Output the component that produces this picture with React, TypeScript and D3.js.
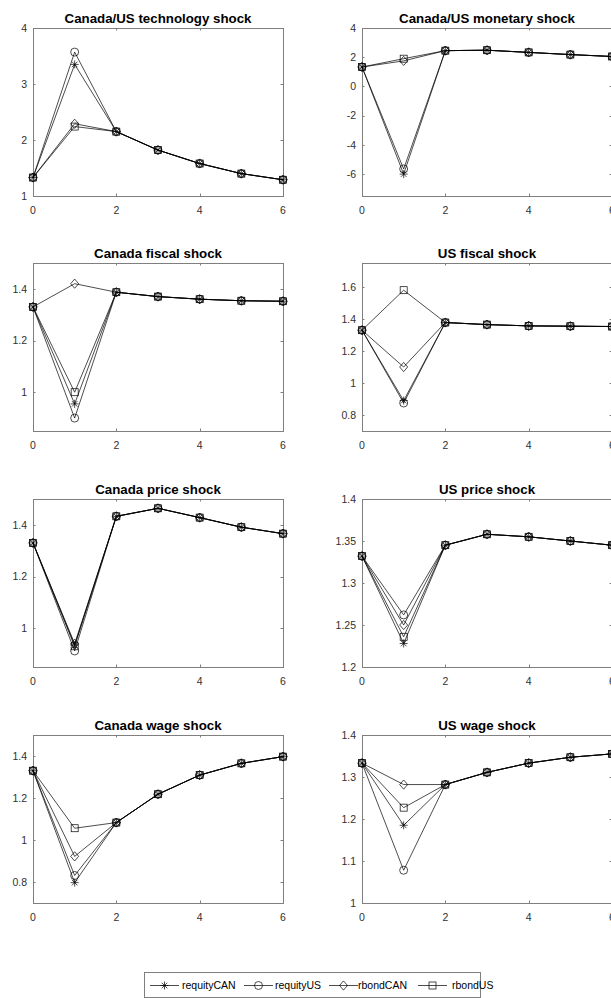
import React from "react";
import * as d3 from "d3";

const steps = [0, 1, 2, 3, 4, 5, 6];
const seriesNames = ["requityCAN", "requityUS", "rbondCAN", "rbondUS"];
const markerTypes = ["star", "circle", "diamond", "square"];
const xTicks = [0, 2, 4, 6];

const titles = [
  "Canada/US technology shock",
  "Canada/US monetary shock",
  "Canada fiscal shock",
  "US fiscal shock",
  "Canada price shock",
  "US price shock",
  "Canada wage shock",
  "US wage shock",
];

// series order: requityCAN, requityUS, rbondCAN, rbondUS
const techShock = [
  [1.33, 3.35, 2.15, 1.82, 1.58, 1.4, 1.29],
  [1.33, 3.57, 2.15, 1.82, 1.58, 1.4, 1.29],
  [1.33, 2.29, 2.15, 1.82, 1.58, 1.4, 1.29],
  [1.33, 2.24, 2.15, 1.82, 1.58, 1.4, 1.29],
];
const monetaryShock = [
  [1.33, -6.0, 2.45, 2.48, 2.33, 2.18, 2.05],
  [1.33, -5.65, 2.45, 2.48, 2.33, 2.18, 2.05],
  [1.33, 1.75, 2.45, 2.48, 2.33, 2.18, 2.05],
  [1.33, 1.9, 2.45, 2.48, 2.33, 2.18, 2.05],
];
const canFiscalShock = [
  [1.33, 0.955, 1.387, 1.37, 1.36, 1.354, 1.352],
  [1.33, 0.9, 1.387, 1.37, 1.36, 1.354, 1.352],
  [1.33, 1.42, 1.387, 1.37, 1.36, 1.354, 1.352],
  [1.33, 1.0, 1.387, 1.37, 1.36, 1.354, 1.352],
];
const usFiscalShock = [
  [1.33, 0.89, 1.378, 1.365, 1.357, 1.355, 1.353],
  [1.33, 0.875, 1.378, 1.365, 1.357, 1.355, 1.353],
  [1.33, 1.1, 1.378, 1.365, 1.357, 1.355, 1.353],
  [1.33, 1.58, 1.378, 1.365, 1.357, 1.355, 1.353],
];
const canPriceShock = [
  [1.33, 0.935, 1.433, 1.464, 1.428, 1.391, 1.366],
  [1.33, 0.912, 1.433, 1.464, 1.428, 1.391, 1.366],
  [1.33, 0.94, 1.433, 1.464, 1.428, 1.391, 1.366],
  [1.33, 0.93, 1.433, 1.464, 1.428, 1.391, 1.366],
];
const usPriceShock = [
  [1.332, 1.228, 1.345, 1.358, 1.355, 1.35, 1.345],
  [1.332, 1.262, 1.345, 1.358, 1.355, 1.35, 1.345],
  [1.332, 1.25, 1.345, 1.358, 1.355, 1.35, 1.345],
  [1.332, 1.236, 1.345, 1.358, 1.355, 1.35, 1.345],
];
const canWageShock = [
  [1.33, 0.797, 1.083, 1.218, 1.309, 1.365, 1.397],
  [1.33, 0.831, 1.083, 1.218, 1.309, 1.365, 1.397],
  [1.33, 0.922, 1.083, 1.218, 1.309, 1.365, 1.397],
  [1.33, 1.056, 1.083, 1.218, 1.309, 1.365, 1.397],
];
const usWageShock = [
  [1.333, 1.185, 1.282, 1.311, 1.333, 1.347, 1.355],
  [1.333, 1.078, 1.282, 1.311, 1.333, 1.347, 1.355],
  [1.333, 1.282, 1.282, 1.311, 1.333, 1.347, 1.355],
  [1.333, 1.227, 1.282, 1.311, 1.333, 1.347, 1.355],
];

const panelData = [
  techShock,
  monetaryShock,
  canFiscalShock,
  usFiscalShock,
  canPriceShock,
  usPriceShock,
  canWageShock,
  usWageShock,
];

const yDomains = [
  [1, 4],
  [-7.5, 4],
  [0.85, 1.5],
  [0.7, 1.75],
  [0.85, 1.5],
  [1.2, 1.4],
  [0.7, 1.5],
  [1, 1.4],
];
const yTicks = [
  [1, 2, 3, 4],
  [-6, -4, -2, 0, 2, 4],
  [1, 1.2, 1.4],
  [0.8, 1, 1.2, 1.4, 1.6],
  [1, 1.2, 1.4],
  [1.2, 1.25, 1.3, 1.35, 1.4],
  [0.8, 1, 1.2, 1.4],
  [1, 1.1, 1.2, 1.3, 1.4],
];

const colLeft = [33, 362];
const rowTop = [28, 263, 499, 735];
const PW = 250;
const PH = 168;
const AXIS = "#7f7f7f";
const TEXT = "#303030";
const FONT = "'Liberation Sans', Arial, Helvetica, sans-serif";

function Marker({ type, x, y }: { type: string; x: number; y: number }) {
  const s = { fill: "none", stroke: "#000", strokeWidth: 0.7 };
  if (type === "circle") return <circle cx={x} cy={y} r={4} {...s} />;
  if (type === "square")
    return <rect x={x - 3.5} y={y - 3.5} width={7} height={7} {...s} />;
  if (type === "diamond")
    return (
      <path
        d={`M${x},${y - 4.6}L${x + 4},${y}L${x},${y + 4.6}L${x - 4},${y}Z`}
        {...s}
      />
    );
  const r = 4;
  const d = r * 0.7;
  return (
    <path
      d={`M${x - r},${y}H${x + r}M${x},${y - r}V${y + r}M${x - d},${y - d}L${x + d},${y + d}M${x - d},${y + d}L${x + d},${y - d}`}
      {...s}
    />
  );
}

function Panel({ idx }: { idx: number }) {
  const left = colLeft[idx % 2];
  const top = rowTop[Math.floor(idx / 2)];
  const x = d3.scaleLinear().domain([0, 6]).range([left, left + PW]);
  const y = d3
    .scaleLinear()
    .domain(yDomains[idx])
    .range([top + PH, top]);
  const line = d3
    .line<number>()
    .x((_, i) => x(steps[i]))
    .y((v) => y(v));
  const series = panelData[idx];
  const tl = 2.5;
  return (
    <g>
      <text
        x={left + PW / 2}
        y={top - 5}
        textAnchor="middle"
        fontFamily={FONT}
        fontWeight="bold"
        fontSize={13.3}
        fill="#000"
      >
        {titles[idx]}
      </text>
      <rect
        x={left + 0.5}
        y={top + 0.5}
        width={PW}
        height={PH}
        fill="none"
        stroke={AXIS}
        strokeWidth={1}
      />
      {xTicks.map((t) => (
        <g key={"x" + t}>
          <line
            x1={Math.round(x(t)) + 0.5}
            x2={Math.round(x(t)) + 0.5}
            y1={top + PH}
            y2={top + PH - tl}
            stroke={AXIS}
          />
          <line
            x1={Math.round(x(t)) + 0.5}
            x2={Math.round(x(t)) + 0.5}
            y1={top}
            y2={top + tl}
            stroke={AXIS}
          />
          <text
            x={x(t)}
            y={top + PH + 18}
            textAnchor="middle"
            fontFamily={FONT}
            fontSize={10.5}
            fill={TEXT}
          >
            {String(t)}
          </text>
        </g>
      ))}
      {yTicks[idx].map((t) => (
        <g key={"y" + t}>
          <line
            x1={left}
            x2={left + tl}
            y1={Math.round(y(t)) + 0.5}
            y2={Math.round(y(t)) + 0.5}
            stroke={AXIS}
          />
          <line
            x1={left + PW}
            x2={left + PW - tl}
            y1={Math.round(y(t)) + 0.5}
            y2={Math.round(y(t)) + 0.5}
            stroke={AXIS}
          />
          <text
            x={left - 6}
            y={y(t)}
            dy="0.35em"
            textAnchor="end"
            fontFamily={FONT}
            fontSize={10.5}
            fill={TEXT}
          >
            {String(t)}
          </text>
        </g>
      ))}
      {series.map((vals, si) => (
        <g key={"s" + si}>
          <path
            d={line(vals) || ""}
            fill="none"
            stroke="#000"
            strokeWidth={0.7}
          />
          {vals.map((v, i) => (
            <Marker key={i} type={markerTypes[si]} x={x(steps[i])} y={y(v)} />
          ))}
        </g>
      ))}
    </g>
  );
}

const legendLineStart = [150, 244, 329, 418];
const legendTextStart = [182, 275, 358, 452];

function Legend() {
  const cy = 985.5;
  return (
    <g>
      <rect
        x={144.5}
        y={972.5}
        width={336}
        height={25}
        fill="#fff"
        stroke={AXIS}
        strokeWidth={1}
      />
      {seriesNames.map((name, i) => (
        <g key={name}>
          <line
            x1={legendLineStart[i]}
            x2={legendLineStart[i] + 29}
            y1={cy}
            y2={cy}
            stroke="#000"
            strokeWidth={0.7}
          />
          <Marker
            type={markerTypes[i]}
            x={legendLineStart[i] + 14.5}
            y={cy}
          />
          <text
            x={legendTextStart[i]}
            y={cy}
            dy="0.35em"
            fontFamily={FONT}
            fontSize={10.5}
            fill="#000"
          >
            {name}
          </text>
        </g>
      ))}
    </g>
  );
}

export default function App() {
  return (
    <svg
      width={611}
      height={998}
      style={{ position: "absolute", left: 0, top: 0, background: "#fff" }}
    >
      <rect x={0} y={0} width={611} height={998} fill="#fff" />
      {titles.map((_, i) => (
        <Panel key={i} idx={i} />
      ))}
      <Legend />
    </svg>
  );
}
